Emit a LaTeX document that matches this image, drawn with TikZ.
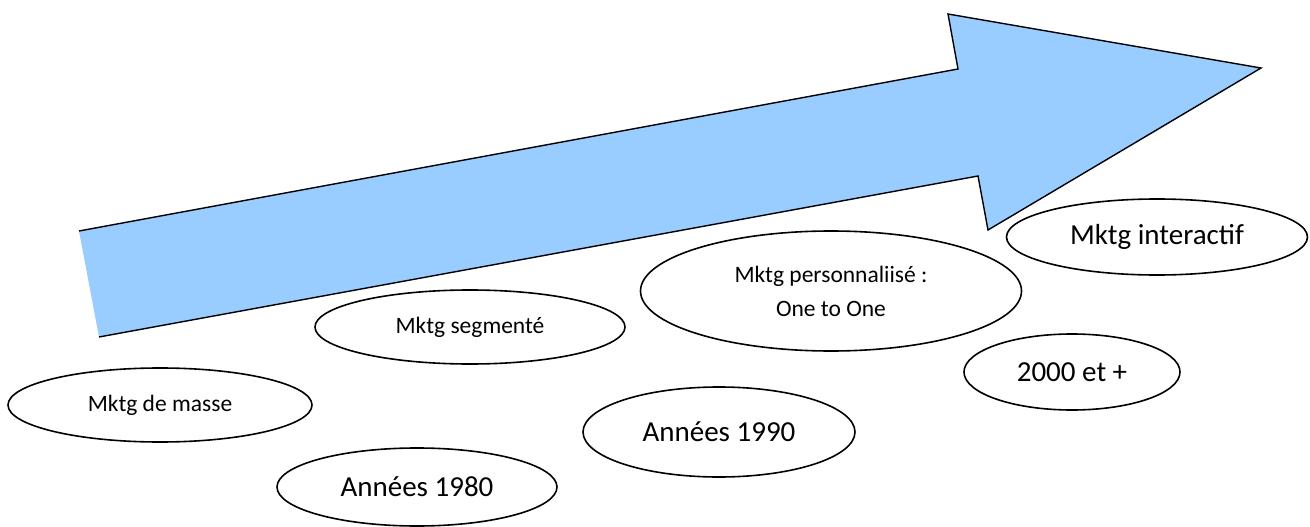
\documentclass[tikz,border=0pt]{standalone}
\usepackage{fontspec}
\setmainfont{Carlito}
\usetikzlibrary{shapes.geometric}
\definecolor{arrowblue}{RGB}{153,204,255}
\begin{document}
\begin{tikzpicture}[x=1pt,y=-1pt,
  bubble/.style={ellipse,draw=black,line width=1.6pt,fill=white,inner sep=0pt},
  smalltext/.style={font=\fontsize{23.5}{34}\selectfont},
  bigtext/.style={font=\fontsize{29}{35}\selectfont}]
\useasboundingbox (0,0) rectangle (1310,527);

% big rising arrow
\coordinate (tl)  at (79,231);
\coordinate (bl)  at (99,337);
\coordinate (nt)  at (958,69);
\coordinate (nb)  at (978,176);
\coordinate (ht)  at (948,14);
\coordinate (hb)  at (988,230);
\coordinate (tip) at (1261,68);
\fill[arrowblue] (tl) -- (nt) -- (ht) -- (tip) -- (hb) -- (nb) -- (bl) -- cycle;
\draw[line width=1.4pt,line join=miter] (bl) -- (nb) -- (hb) -- (tip) -- (ht) -- (nt) -- (tl);

% marketing stages
\node[bubble,smalltext,minimum width=304,minimum height=74] (masse) at (160,405) {Mktg de masse};
\node[bubble,smalltext,minimum width=310,minimum height=74] (segm) at (470,327) {Mktg segmenté};
\node[bubble,smalltext,minimum width=381,minimum height=120,align=center] (perso) at (831,291) {Mktg personnaliisé :\\One to One};
\node[bubble,bigtext,minimum width=301,minimum height=76] (inter) at (1157,237) {Mktg interactif};

% periods
\node[bubble,bigtext,minimum width=280,minimum height=78] (y80) at (417,487) {Années 1980};
\node[bubble,bigtext,minimum width=272,minimum height=90] (y90) at (719,432) {Années 1990};
\node[bubble,bigtext,minimum width=216,minimum height=76] (y00) at (1072,372) {2000 et +};
\end{tikzpicture}
\end{document}
